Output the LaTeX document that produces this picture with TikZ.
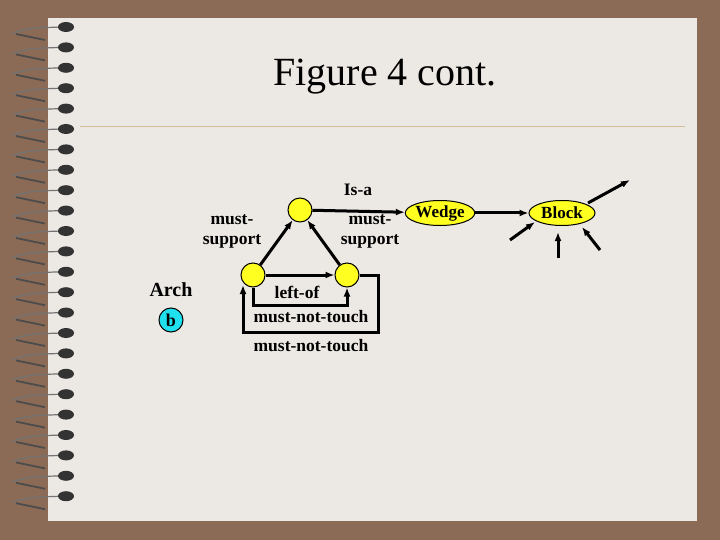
\documentclass[tikz,border=0pt]{standalone}
\usepackage{fontspec}
\setmainfont{Liberation Serif}
\usetikzlibrary{arrows.meta,shapes.geometric}
\definecolor{bgbrown}{HTML}{8C6B56}
\definecolor{paper}{HTML}{ECE8E3}
\definecolor{rule}{HTML}{D2BE98}
\definecolor{ylw}{HTML}{FFFF20}
\definecolor{cyn}{HTML}{20E0F0}
\tikzset{
 dot/.style={circle,draw=black,fill=ylw,minimum size=24pt,inner sep=0pt,line width=1pt},
 ell/.style={ellipse,draw=black,fill=ylw,minimum width=66pt,minimum height=25pt,inner sep=0pt,line width=1pt,font=\bfseries\fontsize{17}{17}\selectfont},
 lbl/.style={font=\bfseries\fontsize{17.5}{20}\selectfont,align=center},
 arr/.style={-{Latex[length=9pt,width=7pt]},line width=3pt},
}
\begin{document}
\begin{tikzpicture}[x=1pt,y=-1pt]
\fill[bgbrown] (0,0) rectangle (720,540);
\useasboundingbox (0,0) rectangle (720,540);
\fill[paper] (48,18) rectangle (697,521);
\draw[rule,line width=1pt] (80,127) -- (685,127);
\foreach \yy in {27,47.4,...,512}{
 \draw[black!55,line width=1.2pt] (12,\yy+6) .. controls (30,\yy+1) .. (62,\yy);
 \draw[black!70,line width=1.8pt] (16,\yy+7) .. controls (30,\yy+10) .. (45,\yy+13);
 \fill[black!80] (66,\yy) ellipse (8pt and 5pt);
}
\node[font=\fontsize{40}{40}\selectfont] (title) at (385,77) {Figure 4 cont.};
\node[dot] (top) at (300,210) {};
\node[dot] (lft) at (253,275) {};
\node[dot] (rgt) at (347,275) {};
\node[lbl,font=\bfseries\fontsize{20}{20}\selectfont] (arch) at (171,290) {Arch};
\node[circle,draw=black,fill=cyn,minimum size=24pt,inner sep=0pt,line width=1pt,font=\bfseries\fontsize{18}{18}\selectfont] (b) at (171,320) {b};
\node[ell] (wedge) at (440,213) {Wedge};
\node[ell] (block) at (562,213) {Block};
\node[lbl] (isa) at (358,190) {Is-a};
\node[lbl] (ms1) at (232,231) {must-\\support};
\node[lbl] (ms2) at (370,231) {must-\\support};
\node[lbl] (lo) at (297,292) {left-of};
\node[lbl] (mnt1) at (311,317) {must-not-touch};
\node[lbl] (mnt2) at (311,346) {must-not-touch};
\coordinate (p0) at (588,203);
\coordinate (p1) at (630,180);
\coordinate (p2) at (510,240);
\coordinate (p3) at (558,258);
\coordinate (p4) at (600,250);
\draw[arr] (top) -- (wedge);
\draw[arr] (wedge) -- (block);
\draw[arr] (p0) -- (p1);
\draw[arr] (p2) -- (535,222);
\draw[arr] (p3) -- (558,232);
\draw[arr] (p4) -- (582,227);
\draw[arr] (lft) -- (top);
\draw[arr] (rgt) -- (top);
\draw[arr] (lft) -- (rgt);
\draw[arr] (lft.south) -- (253,305) -- (347,305) -- (rgt.south);
\draw[arr] (rgt.east) -- (378,275) -- (378,332) -- (243,332) -- (243,285);
\end{tikzpicture}
\end{document}
